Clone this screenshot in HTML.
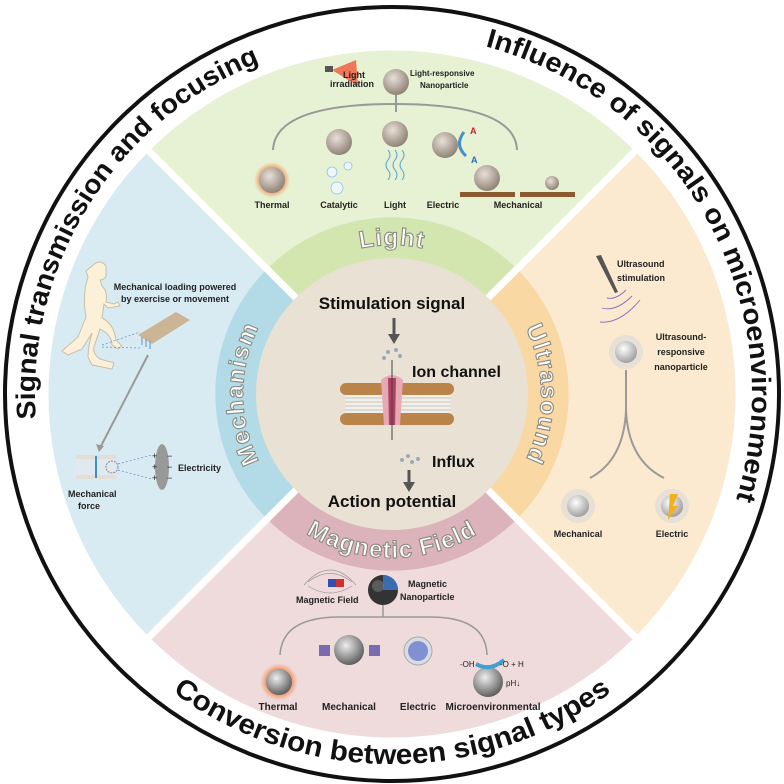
<!DOCTYPE html>
<html><head><meta charset="utf-8"><style>
html,body{margin:0;padding:0;background:#fff;width:784px;height:784px;overflow:hidden}
svg{display:block;font-family:"Liberation Sans",Arial,sans-serif}
.b{font-weight:bold}
</style></head><body>
<svg width="784" height="784" viewBox="0 0 784 784" xmlns="http://www.w3.org/2000/svg">
<defs>
<path id="tl" d="M 35.9 418.9 A 357 357 0 0 1 252.5 65.4"/>
<path id="tr" d="M 485.2 46.3 A 360 360 0 0 1 735.3 502.3"/>
<path id="bt" d="M 44.3 520.6 A 370 370 0 0 0 739.7 520.6"/>
<path id="lb" d="M 317.5 265.0 A 149 149 0 0 1 466.5 265.0"/>
<path id="mb" d="M 296.2 508.1 A 149 149 0 0 1 296.2 279.9"/>
<path id="ub" d="M 487.8 279.9 A 149 149 0 0 1 487.8 508.1"/>
<path id="fb" d="M 250.0 476.0 A 164 164 0 0 0 534.0 476.0"/>
<radialGradient id="ball" cx="0.4" cy="0.35" r="0.7"><stop offset="0" stop-color="#e8e0d8"/><stop offset="1" stop-color="#8a7c70"/></radialGradient>
<radialGradient id="glow"><stop offset="0.55" stop-color="#f07030"/><stop offset="1" stop-color="#f0a060" stop-opacity="0"/></radialGradient>
<radialGradient id="mball" cx="0.4" cy="0.35" r="0.7"><stop offset="0" stop-color="#eee"/><stop offset="1" stop-color="#555"/></radialGradient>
<radialGradient id="wball" cx="0.4" cy="0.35" r="0.7"><stop offset="0" stop-color="#fff"/><stop offset="1" stop-color="#999"/></radialGradient>
</defs>
<circle cx="392" cy="394" r="387" fill="#fff" stroke="#111" stroke-width="4"/>
<path d="M392 394 L149 151 A344 344 0 0 1 635 151Z" fill="#e7f1d3"/>
<path d="M392 394 L635 151 A344 344 0 0 1 635 637Z" fill="#fbeacf"/>
<path d="M392 394 L635 637 A344 344 0 0 1 149 637Z" fill="#efdadc"/>
<path d="M392 394 L149 637 A344 344 0 0 1 149 151Z" fill="#d8ebf2"/>
<path d="M392 394 L267 269 A177 177 0 0 1 517 269Z" fill="#d3e6af"/>
<path d="M392 394 L517 269 A177 177 0 0 1 517 519Z" fill="#fad8a4"/>
<path d="M392 394 L517 519 A177 177 0 0 1 267 519Z" fill="#dcb3ba"/>
<path d="M392 394 L267 519 A177 177 0 0 1 267 269Z" fill="#b3dbe7"/>
<line x1="149" y1="151" x2="635" y2="637" stroke="#fff" stroke-width="7"/>
<line x1="635" y1="151" x2="149" y2="637" stroke="#fff" stroke-width="7"/>
<circle cx="392" cy="394" r="136" fill="#e9e1d3"/>
<text class="b" font-size="27" fill="#111"><textPath href="#tl" textLength="450" lengthAdjust="spacingAndGlyphs">Signal transmission and focusing</textPath></text>
<text class="b" font-size="27" fill="#111"><textPath href="#tr" textLength="578" lengthAdjust="spacingAndGlyphs">Influence of signals on microenvironment</textPath></text>
<text class="b" font-size="28" fill="#111"><textPath href="#bt" startOffset="50%" text-anchor="middle" textLength="470" lengthAdjust="spacingAndGlyphs">Conversion between signal types</textPath></text>
<g class="b" font-size="24" fill="#fff" stroke="#8a8a80" stroke-width="1.1" letter-spacing="1">
<text><textPath href="#lb" startOffset="50%" text-anchor="middle">Light</textPath></text>
<text><textPath href="#mb" startOffset="50%" text-anchor="middle">Mechanism</textPath></text>
<text><textPath href="#ub" startOffset="50%" text-anchor="middle">Ultrasound</textPath></text>
<text><textPath href="#fb" startOffset="50%" text-anchor="middle">Magnetic Field</textPath></text>
</g>
<text x="392" y="309" class="b" font-size="17" text-anchor="middle" fill="#111">Stimulation signal</text>
<line x1="394" y1="318" x2="394" y2="336" stroke="#555" stroke-width="3"/><path d="M388 334 L400 334 L394 344Z" fill="#555"/>
<g fill="#9ab">
<circle cx="388" cy="352" r="2"/><circle cx="396" cy="350" r="2"/><circle cx="400" cy="356" r="2"/><circle cx="384" cy="358" r="2"/>
<circle cx="402" cy="460" r="2"/><circle cx="408" cy="456" r="2"/><circle cx="412" cy="462" r="2"/><circle cx="418" cy="459" r="2"/>
</g>
<g fill="#b9834a">
<rect x="340" y="383" width="114" height="12" rx="6"/><rect x="340" y="413" width="114" height="12" rx="6"/>
</g>
<rect x="345" y="395" width="106" height="18" fill="#f2efe8"/>
<g stroke="#999" stroke-width="0.6"><path d="M345 398 H451 M345 402 H451 M345 406 H451 M345 410 H451"/></g>
<path d="M381 380 Q392 370 403 380 L400 425 L384 425Z" fill="#e6a9b5"/>
<path d="M388 378 L396 378 L395 425 L389 425Z" fill="#b04060"/>
<line x1="392" y1="360" x2="392" y2="440" stroke="#444" stroke-width="1"/>
<text x="412" y="377" class="b" font-size="16" fill="#111">Ion channel</text>
<text x="432" y="467" class="b" font-size="16" fill="#111">Influx</text>
<line x1="409" y1="470" x2="409" y2="484" stroke="#555" stroke-width="3"/><path d="M403 482 L415 482 L409 492Z" fill="#555"/>
<text x="392" y="507" class="b" font-size="17" text-anchor="middle" fill="#111">Action potential</text>
<path d="M332 70 L356 60 L358 86Z" fill="#f06040" opacity="0.85"/><rect x="325" y="66" width="8" height="6" fill="#555"/>
<text x="343" y="78" font-size="9" class="b" fill="#222">Light</text>
<text x="330" y="87" font-size="9" class="b" fill="#222">irradiation</text>
<circle cx="396" cy="82" r="13" fill="url(#ball)"/>
<text x="410" y="76" font-size="8" class="b" fill="#222">Light-responsive</text>
<text x="420" y="88" font-size="8" class="b" fill="#222">Nanoparticle</text>
<path d="M273 150 Q275 104 395 104 Q515 104 517 150" fill="none" stroke="#999" stroke-width="2"/>
<line x1="396" y1="95" x2="396" y2="112" stroke="#999" stroke-width="2"/>
<circle cx="272" cy="180" r="18" fill="url(#glow)"/><circle cx="272" cy="180" r="13" fill="url(#ball)"/>
<circle cx="339" cy="142" r="13" fill="url(#ball)"/><circle cx="395" cy="134" r="13" fill="url(#ball)"/>
<circle cx="445" cy="145" r="13" fill="url(#ball)"/><circle cx="487" cy="178" r="13" fill="url(#ball)"/><circle cx="552" cy="183" r="7" fill="url(#ball)"/>
<rect x="460" y="192" width="55" height="5" fill="#8a5a30"/><rect x="520" y="192" width="55" height="5" fill="#8a5a30"/>
<g fill="#eef6fb" stroke="#8cc4e8" stroke-width="0.8"><circle cx="332" cy="172" r="5"/><circle cx="348" cy="166" r="4"/><circle cx="337" cy="188" r="6"/></g>
<path d="M388 150 q4 5 0 10 q-4 5 0 10 q4 5 0 10 M395 150 q4 5 0 10 q-4 5 0 10 q4 5 0 10 M402 150 q4 5 0 10 q-4 5 0 10 q4 5 0 10" stroke="#5aa6d8" fill="none"/>
<path d="M464 132 Q454 145 466 156" stroke="#4a90c8" stroke-width="3" fill="none"/>
<text x="470" y="134" font-size="9" fill="#d02020" class="b">A</text><text x="471" y="163" font-size="9" fill="#2070c0" class="b">A</text>
<g font-size="9" class="b" fill="#222" text-anchor="middle">
<text x="272" y="208">Thermal</text><text x="339" y="208">Catalytic</text><text x="395" y="208">Light</text><text x="443" y="208">Electric</text><text x="518" y="208">Mechanical</text>
</g>
<path d="M596 256 L601 255 L618 292 L615 293Z" fill="#555"/>
<path d="M607 298 Q616 300 626 290 M602 308 Q616 312 632 296 M600 322 Q620 324 640 300" stroke="#8070c0" fill="none" stroke-width="0.9"/>
<text x="617" y="267" font-size="9" class="b" fill="#222">Ultrasound</text><text x="617" y="281" font-size="9" class="b" fill="#222">stimulation</text>
<circle cx="626" cy="352" r="17" fill="#e6e0d6"/><circle cx="626" cy="352" r="11" fill="url(#wball)"/>
<g font-size="9" class="b" fill="#222" text-anchor="middle"><text x="681" y="340">Ultrasound-</text><text x="681" y="355">responsive</text><text x="681" y="370">nanoparticle</text></g>
<path d="M626 370 L626 410 Q624 460 590 478 M626 410 Q628 460 664 478" stroke="#999" stroke-width="2" fill="none"/>
<circle cx="578" cy="506" r="17" fill="#e6e0d6"/><circle cx="578" cy="506" r="11" fill="url(#wball)"/>
<circle cx="672" cy="506" r="17" fill="#e6e0d6"/><circle cx="672" cy="506" r="11" fill="url(#wball)"/>
<path d="M670 494 L678 494 L673 506 L678 506 L668 520Z" fill="#f0b020"/>
<text x="578" y="537" font-size="9" class="b" text-anchor="middle" fill="#222">Mechanical</text>
<text x="672" y="537" font-size="9" class="b" text-anchor="middle" fill="#222">Electric</text>
<path d="M92 266 q8 -8 14 0 l0 10 q-2 4 -6 4 l2 6 q6 6 4 16 l8 2 4 -2 2 4 -12 2 -4 -4 -2 14 q12 6 14 22 l6 6 -4 3 -6 -4 q0 -10 -12 -16 l-6 18 q-2 6 6 12 l14 4 -2 6 -20 -4 -4 -8 q0 -10 4 -24 l-10 16 -14 6 -6 -4 16 -14 8 -20 q-4 -22 2 -40 l-2 -6z" fill="#fcf1d8" stroke="#c9bfa8" stroke-width="1"/>
<g font-size="9" class="b" fill="#222" text-anchor="middle"><text x="175" y="290">Mechanical loading powered</text><text x="175" y="302">by exercise or movement</text></g>
<path d="M138 335 L176 312 L190 320 L152 344Z" fill="#cbb595"/>
<path d="M138 335 L152 344 L152 350 L140 346Z" fill="#dfe8ee"/>
<g stroke="#4a9ad8" stroke-width="1"><path d="M142 337 v8 M146 339 v8 M150 341 v8"/></g>
<path d="M102 345 L140 332 M102 347 L140 348" stroke="#6a8ac8" stroke-dasharray="2 2" stroke-width="0.7"/>
<line x1="148" y1="355" x2="100" y2="448" stroke="#999" stroke-width="2"/><path d="M96 444 L104 446 L99 452Z" fill="#999"/>
<rect x="76" y="455" width="40" height="24" fill="#e4dfd6"/>
<rect x="76" y="459" width="40" height="16" fill="#dfe9ef"/>
<line x1="96" y1="456" x2="96" y2="478" stroke="#3a90d0" stroke-width="2"/>
<circle cx="112" cy="467" r="6" fill="none" stroke="#888" stroke-dasharray="2 1"/>
<path d="M118 464 L152 455 M118 470 L152 479" stroke="#6a8ac8" stroke-dasharray="2 2" stroke-width="0.7"/>
<ellipse cx="162" cy="467" rx="7" ry="23" fill="#999"/>
<g font-size="9" fill="#222"><text x="152" y="459">+</text><text x="152" y="470">+</text><text x="152" y="481">+</text><text x="167" y="459">−</text><text x="167" y="470">−</text><text x="167" y="481">−</text></g>
<text x="178" y="471" font-size="9" class="b" fill="#222">Electricity</text>
<text x="68" y="497" font-size="9" class="b" fill="#222">Mechanical</text><text x="78" y="509" font-size="9" class="b" fill="#222">force</text>
<path d="M308 582 Q330 565 352 582 M304 585 Q330 555 356 585 M308 586 Q330 600 352 586" stroke="#999" fill="none" stroke-width="0.7"/>
<rect x="328" y="579" width="8" height="8" fill="#3050b0"/><rect x="336" y="579" width="8" height="8" fill="#d03030"/>
<circle cx="383" cy="590" r="15" fill="#333"/>
<path d="M383 590 L383 575 A15 15 0 0 1 398 590Z" fill="#3a6db0"/>
<circle cx="378" cy="586" r="6" fill="#777" opacity="0.6"/>
<text x="296" y="603" font-size="9" class="b" fill="#222">Magnetic Field</text>
<text x="408" y="587" font-size="9" class="b" fill="#222">Magnetic</text><text x="400" y="600" font-size="9" class="b" fill="#222">Nanoparticle</text>
<path d="M280 655 Q282 617 340 617 L430 617 Q486 617 487 655" fill="none" stroke="#999" stroke-width="1.5"/>
<line x1="383" y1="605" x2="383" y2="617" stroke="#999" stroke-width="1.5"/>
<circle cx="279" cy="682" r="19" fill="url(#glow)"/><circle cx="279" cy="682" r="13" fill="url(#mball)"/>
<circle cx="349" cy="650" r="15" fill="url(#mball)"/><rect x="319" y="645" width="11" height="11" fill="#7a6ab0"/><rect x="369" y="645" width="11" height="11" fill="#7a6ab0"/>
<circle cx="418" cy="651" r="14" fill="#d8dce4" stroke="#aaa"/><circle cx="418" cy="651" r="10" fill="#8090d0"/>
<circle cx="488" cy="682" r="15" fill="url(#mball)"/>
<path d="M476 664 Q490 672 504 660" stroke="#40a0d0" stroke-width="4" fill="none"/>
<text x="460" y="667" font-size="8" fill="#222">-OH</text><text x="500" y="667" font-size="8" fill="#222">-O + H</text><text x="506" y="686" font-size="8" fill="#222">pH↓</text>
<g font-size="10" class="b" fill="#222" text-anchor="middle">
<text x="278" y="710">Thermal</text><text x="349" y="710">Mechanical</text><text x="418" y="710">Electric</text><text x="493" y="710">Microenvironmental</text>
</g>
</svg>
</body></html>
